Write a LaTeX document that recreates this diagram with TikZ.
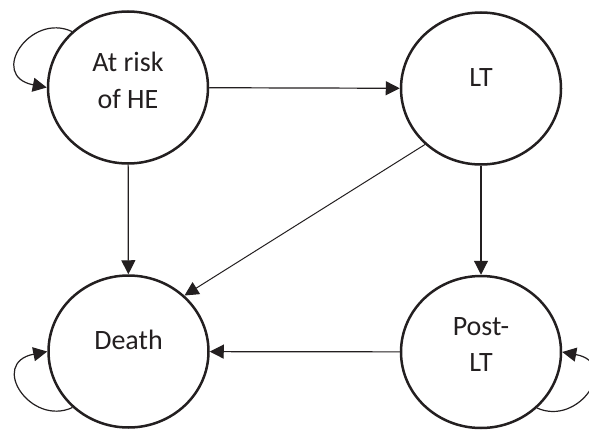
\documentclass[tikz,border=0pt]{standalone}
\usepackage{fontspec}
\setmainfont{Carlito}
\usetikzlibrary{arrows.meta,shapes.geometric}
\definecolor{ink}{HTML}{231F20}
\begin{document}
\begin{tikzpicture}[x=1pt,y=-1pt,
  state/.style={draw=ink, line width=2.5pt, ellipse, minimum width=160pt, minimum height=152pt, inner sep=0pt},
  lbl/.style={text=ink, font=\fontsize{28pt}{36.5pt}\selectfont, align=center, inner sep=0pt},
  arr/.style={draw=ink, line width=1.2pt, -{Triangle[length=14pt,width=14pt]}},
  thinarr/.style={arr, line width=1pt}
]
\useasboundingbox (0,0) rectangle (589,431);
\node[state] (at) at (128,87.5) {};
\node[state] (lt) at (481,88.5) {};
\node[state] (de) at (128.5,351.5) {};
\node[state] (po) at (481,352) {};
\node[lbl] (atT) at (128,80.5) {At risk\\of HE};
\node[lbl] (ltT) at (481,78) {LT};
\node[lbl] (deT) at (128.5,340) {Death};
\node[lbl] (poT) at (481,344.5) {Post-\\LT};
\draw[arr] (at) -- (lt);
\draw[arr] (at) -- (de);
\draw[arr] (lt) -- (po);
\draw[arr] (po) -- (de);
\draw[thinarr] (lt.225) -- (de.45);
\draw[arr] (at.135) .. controls (30,12) and (-12,76) .. (at.180);
\draw[arr] (de.225) .. controls (30.5,427) and (-11.5,363) .. (de.180);
\draw[arr] (po.315) .. controls (579,427) and (621,363) .. (po.0);
\end{tikzpicture}
\end{document}
